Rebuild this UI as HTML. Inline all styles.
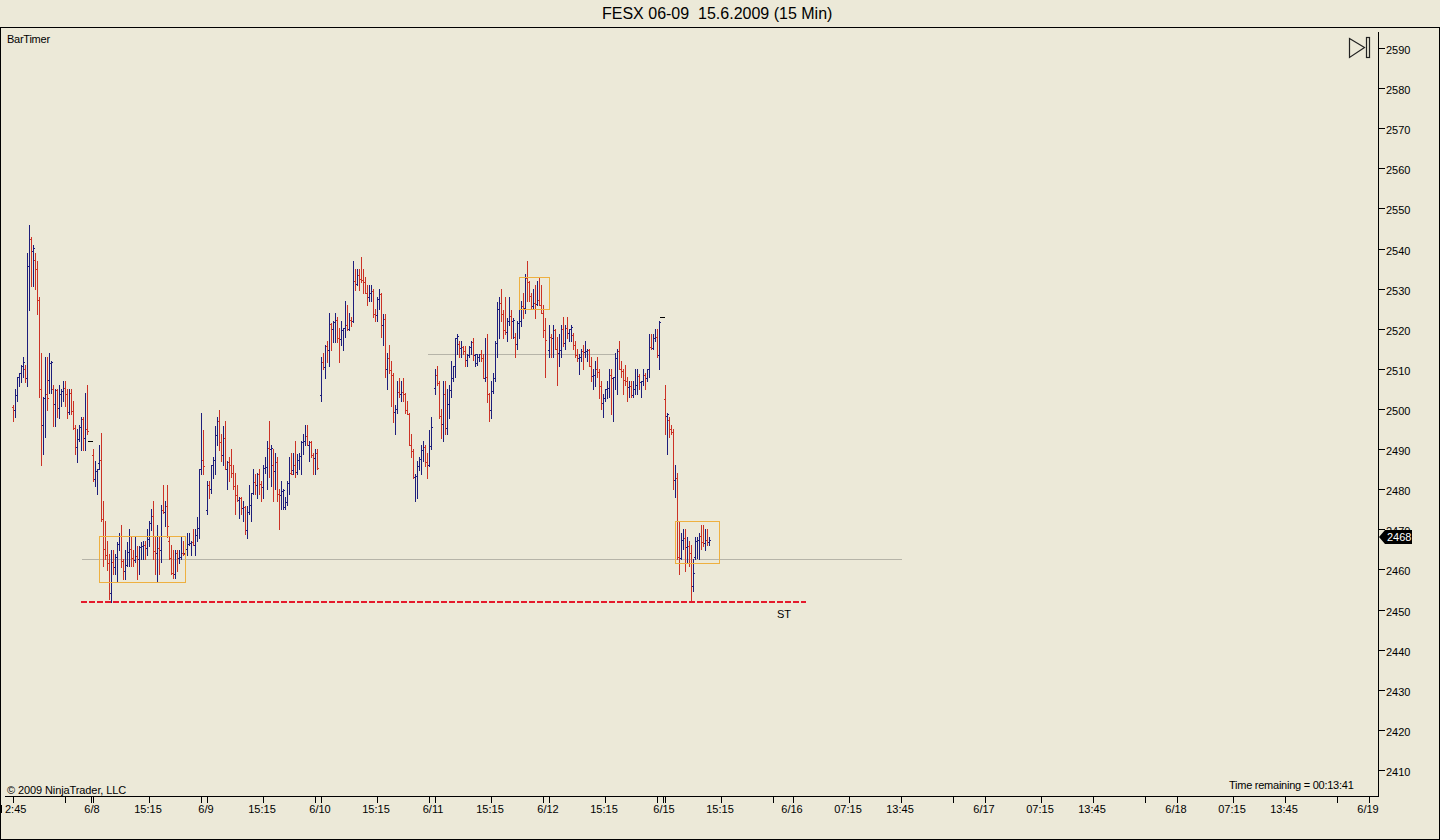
<!DOCTYPE html>
<html><head><meta charset="utf-8"><style>
html,body{margin:0;padding:0;}
body{width:1440px;height:840px;overflow:hidden;background:#ece9d8;position:relative;font-family:"Liberation Sans",sans-serif;color:#000;}
.t{position:absolute;font-size:11px;line-height:11px;white-space:pre;}
.c{transform:translateX(-50%);}
svg{position:absolute;left:0;top:0;}
</style></head><body>
<div class="t" style="left:602px;top:6px;font-size:16px;line-height:16px;">FESX 06-09  15.6.2009 (15 Min)</div>
<svg width="1440" height="840" viewBox="0 0 1440 840" shape-rendering="crispEdges">
<rect x="0" y="27" width="1440" height="1" fill="#000"/>
<rect x="0" y="27" width="1" height="813" fill="#000"/>
<rect x="1439" y="27" width="1" height="813" fill="#000"/>
<rect x="0" y="839" width="1440" height="1" fill="#000"/>
<rect x="1378" y="32" width="1" height="765" fill="#000"/>
<rect x="5" y="796" width="1374" height="1" fill="#000"/>
<rect x="0" y="805" width="2" height="8" fill="#000"/>
<rect x="428" y="354" width="187" height="1" fill="#b6b4a8"/>
<rect x="82" y="559" width="820" height="1" fill="#b6b4a8"/>

<rect x="13" y="405" width="1" height="17" fill="#cc3226"/>
<rect x="12" y="407" width="1" height="1" fill="#cc3226"/>
<rect x="14" y="410" width="1" height="1" fill="#cc3226"/>
<rect x="15" y="389" width="1" height="29" fill="#1e1e7c"/>
<rect x="14" y="410" width="1" height="1" fill="#1e1e7c"/>
<rect x="16" y="395" width="1" height="1" fill="#1e1e7c"/>
<rect x="17" y="377" width="1" height="25" fill="#1e1e7c"/>
<rect x="16" y="395" width="1" height="1" fill="#1e1e7c"/>
<rect x="18" y="377" width="1" height="1" fill="#1e1e7c"/>
<rect x="19" y="373" width="1" height="14" fill="#1e1e7c"/>
<rect x="18" y="377" width="1" height="1" fill="#1e1e7c"/>
<rect x="20" y="373" width="1" height="1" fill="#1e1e7c"/>
<rect x="21" y="365" width="1" height="18" fill="#1e1e7c"/>
<rect x="20" y="373" width="1" height="1" fill="#1e1e7c"/>
<rect x="22" y="366" width="1" height="1" fill="#1e1e7c"/>
<rect x="23" y="357" width="1" height="21" fill="#1e1e7c"/>
<rect x="22" y="366" width="1" height="1" fill="#1e1e7c"/>
<rect x="24" y="362" width="1" height="1" fill="#1e1e7c"/>
<rect x="25" y="365" width="1" height="18" fill="#cc3226"/>
<rect x="24" y="369" width="1" height="1" fill="#cc3226"/>
<rect x="26" y="378" width="1" height="1" fill="#cc3226"/>
<rect x="27" y="253" width="1" height="134" fill="#1e1e7c"/>
<rect x="26" y="378" width="1" height="1" fill="#1e1e7c"/>
<rect x="28" y="266" width="1" height="1" fill="#1e1e7c"/>
<rect x="29" y="225" width="1" height="86" fill="#1e1e7c"/>
<rect x="28" y="266" width="1" height="1" fill="#1e1e7c"/>
<rect x="30" y="239" width="1" height="1" fill="#1e1e7c"/>
<rect x="31" y="237" width="1" height="50" fill="#cc3226"/>
<rect x="30" y="239" width="1" height="1" fill="#cc3226"/>
<rect x="32" y="251" width="1" height="1" fill="#cc3226"/>
<rect x="33" y="245" width="1" height="42" fill="#1e1e7c"/>
<rect x="32" y="251" width="1" height="1" fill="#1e1e7c"/>
<rect x="34" y="248" width="1" height="1" fill="#1e1e7c"/>
<rect x="35" y="253" width="1" height="37" fill="#cc3226"/>
<rect x="34" y="260" width="1" height="1" fill="#cc3226"/>
<rect x="36" y="269" width="1" height="1" fill="#cc3226"/>
<rect x="37" y="261" width="1" height="54" fill="#cc3226"/>
<rect x="36" y="269" width="1" height="1" fill="#cc3226"/>
<rect x="38" y="300" width="1" height="1" fill="#cc3226"/>
<rect x="39" y="297" width="1" height="101" fill="#cc3226"/>
<rect x="38" y="300" width="1" height="1" fill="#cc3226"/>
<rect x="40" y="389" width="1" height="1" fill="#cc3226"/>
<rect x="41" y="353" width="1" height="113" fill="#cc3226"/>
<rect x="40" y="389" width="1" height="1" fill="#cc3226"/>
<rect x="42" y="425" width="1" height="1" fill="#cc3226"/>
<rect x="43" y="397" width="1" height="58" fill="#1e1e7c"/>
<rect x="42" y="425" width="1" height="1" fill="#1e1e7c"/>
<rect x="44" y="398" width="1" height="1" fill="#1e1e7c"/>
<rect x="45" y="357" width="1" height="81" fill="#1e1e7c"/>
<rect x="44" y="398" width="1" height="1" fill="#1e1e7c"/>
<rect x="46" y="394" width="1" height="1" fill="#1e1e7c"/>
<rect x="47" y="357" width="1" height="54" fill="#cc3226"/>
<rect x="46" y="394" width="1" height="1" fill="#cc3226"/>
<rect x="48" y="398" width="1" height="1" fill="#cc3226"/>
<rect x="49" y="353" width="1" height="41" fill="#1e1e7c"/>
<rect x="48" y="380" width="1" height="1" fill="#1e1e7c"/>
<rect x="50" y="363" width="1" height="1" fill="#1e1e7c"/>
<rect x="51" y="361" width="1" height="33" fill="#1e1e7c"/>
<rect x="50" y="363" width="1" height="1" fill="#1e1e7c"/>
<rect x="52" y="362" width="1" height="1" fill="#1e1e7c"/>
<rect x="53" y="385" width="1" height="42" fill="#cc3226"/>
<rect x="52" y="389" width="1" height="1" fill="#cc3226"/>
<rect x="54" y="404" width="1" height="1" fill="#cc3226"/>
<rect x="55" y="389" width="1" height="38" fill="#1e1e7c"/>
<rect x="54" y="404" width="1" height="1" fill="#1e1e7c"/>
<rect x="56" y="390" width="1" height="1" fill="#1e1e7c"/>
<rect x="57" y="389" width="1" height="29" fill="#cc3226"/>
<rect x="56" y="390" width="1" height="1" fill="#cc3226"/>
<rect x="58" y="408" width="1" height="1" fill="#cc3226"/>
<rect x="59" y="385" width="1" height="34" fill="#1e1e7c"/>
<rect x="58" y="408" width="1" height="1" fill="#1e1e7c"/>
<rect x="60" y="394" width="1" height="1" fill="#1e1e7c"/>
<rect x="61" y="389" width="1" height="18" fill="#1e1e7c"/>
<rect x="60" y="394" width="1" height="1" fill="#1e1e7c"/>
<rect x="62" y="391" width="1" height="1" fill="#1e1e7c"/>
<rect x="63" y="381" width="1" height="21" fill="#1e1e7c"/>
<rect x="62" y="391" width="1" height="1" fill="#1e1e7c"/>
<rect x="64" y="388" width="1" height="1" fill="#1e1e7c"/>
<rect x="65" y="381" width="1" height="26" fill="#cc3226"/>
<rect x="64" y="388" width="1" height="1" fill="#cc3226"/>
<rect x="66" y="394" width="1" height="1" fill="#cc3226"/>
<rect x="67" y="389" width="1" height="30" fill="#cc3226"/>
<rect x="66" y="394" width="1" height="1" fill="#cc3226"/>
<rect x="68" y="412" width="1" height="1" fill="#cc3226"/>
<rect x="69" y="389" width="1" height="26" fill="#1e1e7c"/>
<rect x="68" y="412" width="1" height="1" fill="#1e1e7c"/>
<rect x="70" y="393" width="1" height="1" fill="#1e1e7c"/>
<rect x="71" y="389" width="1" height="26" fill="#cc3226"/>
<rect x="70" y="393" width="1" height="1" fill="#cc3226"/>
<rect x="72" y="411" width="1" height="1" fill="#cc3226"/>
<rect x="73" y="401" width="1" height="29" fill="#cc3226"/>
<rect x="72" y="411" width="1" height="1" fill="#cc3226"/>
<rect x="74" y="428" width="1" height="1" fill="#cc3226"/>
<rect x="75" y="425" width="1" height="30" fill="#cc3226"/>
<rect x="74" y="428" width="1" height="1" fill="#cc3226"/>
<rect x="76" y="447" width="1" height="1" fill="#cc3226"/>
<rect x="77" y="429" width="1" height="34" fill="#1e1e7c"/>
<rect x="76" y="447" width="1" height="1" fill="#1e1e7c"/>
<rect x="78" y="439" width="1" height="1" fill="#1e1e7c"/>
<rect x="79" y="425" width="1" height="17" fill="#1e1e7c"/>
<rect x="78" y="439" width="1" height="1" fill="#1e1e7c"/>
<rect x="80" y="427" width="1" height="1" fill="#1e1e7c"/>
<rect x="81" y="417" width="1" height="34" fill="#1e1e7c"/>
<rect x="80" y="427" width="1" height="1" fill="#1e1e7c"/>
<rect x="82" y="419" width="1" height="1" fill="#1e1e7c"/>
<rect x="83" y="417" width="1" height="34" fill="#cc3226"/>
<rect x="82" y="419" width="1" height="1" fill="#cc3226"/>
<rect x="84" y="438" width="1" height="1" fill="#cc3226"/>
<rect x="85" y="393" width="1" height="58" fill="#1e1e7c"/>
<rect x="84" y="438" width="1" height="1" fill="#1e1e7c"/>
<rect x="86" y="429" width="1" height="1" fill="#1e1e7c"/>
<rect x="87" y="385" width="1" height="50" fill="#cc3226"/>
<rect x="86" y="429" width="1" height="1" fill="#cc3226"/>
<rect x="88" y="431" width="1" height="1" fill="#cc3226"/>
<rect x="88" y="441" width="5" height="1" fill="#000"/>
<rect x="93" y="449" width="1" height="33" fill="#cc3226"/>
<rect x="92" y="455" width="1" height="1" fill="#cc3226"/>
<rect x="94" y="479" width="1" height="1" fill="#cc3226"/>
<rect x="95" y="461" width="1" height="26" fill="#1e1e7c"/>
<rect x="94" y="479" width="1" height="1" fill="#1e1e7c"/>
<rect x="96" y="471" width="1" height="1" fill="#1e1e7c"/>
<rect x="97" y="469" width="1" height="26" fill="#1e1e7c"/>
<rect x="96" y="471" width="1" height="1" fill="#1e1e7c"/>
<rect x="98" y="469" width="1" height="1" fill="#1e1e7c"/>
<rect x="99" y="445" width="1" height="25" fill="#1e1e7c"/>
<rect x="98" y="463" width="1" height="1" fill="#1e1e7c"/>
<rect x="100" y="460" width="1" height="1" fill="#1e1e7c"/>
<rect x="101" y="433" width="1" height="89" fill="#cc3226"/>
<rect x="100" y="460" width="1" height="1" fill="#cc3226"/>
<rect x="102" y="519" width="1" height="1" fill="#cc3226"/>
<rect x="103" y="501" width="1" height="66" fill="#cc3226"/>
<rect x="102" y="519" width="1" height="1" fill="#cc3226"/>
<rect x="104" y="549" width="1" height="1" fill="#cc3226"/>
<rect x="105" y="521" width="1" height="39" fill="#cc3226"/>
<rect x="104" y="549" width="1" height="1" fill="#cc3226"/>
<rect x="106" y="555" width="1" height="1" fill="#cc3226"/>
<rect x="107" y="541" width="1" height="30" fill="#cc3226"/>
<rect x="106" y="555" width="1" height="1" fill="#cc3226"/>
<rect x="108" y="563" width="1" height="1" fill="#cc3226"/>
<rect x="109" y="554" width="1" height="46" fill="#cc3226"/>
<rect x="108" y="563" width="1" height="1" fill="#cc3226"/>
<rect x="110" y="593" width="1" height="1" fill="#cc3226"/>
<rect x="111" y="550" width="1" height="53" fill="#1e1e7c"/>
<rect x="110" y="593" width="1" height="1" fill="#1e1e7c"/>
<rect x="112" y="562" width="1" height="1" fill="#1e1e7c"/>
<rect x="113" y="550" width="1" height="25" fill="#cc3226"/>
<rect x="112" y="562" width="1" height="1" fill="#cc3226"/>
<rect x="114" y="567" width="1" height="1" fill="#cc3226"/>
<rect x="115" y="554" width="1" height="21" fill="#1e1e7c"/>
<rect x="114" y="567" width="1" height="1" fill="#1e1e7c"/>
<rect x="116" y="557" width="1" height="1" fill="#1e1e7c"/>
<rect x="117" y="542" width="1" height="41" fill="#1e1e7c"/>
<rect x="116" y="557" width="1" height="1" fill="#1e1e7c"/>
<rect x="118" y="544" width="1" height="1" fill="#1e1e7c"/>
<rect x="119" y="533" width="1" height="18" fill="#1e1e7c"/>
<rect x="118" y="544" width="1" height="1" fill="#1e1e7c"/>
<rect x="120" y="536" width="1" height="1" fill="#1e1e7c"/>
<rect x="121" y="525" width="1" height="43" fill="#cc3226"/>
<rect x="120" y="536" width="1" height="1" fill="#cc3226"/>
<rect x="122" y="561" width="1" height="1" fill="#cc3226"/>
<rect x="123" y="559" width="1" height="21" fill="#cc3226"/>
<rect x="122" y="561" width="1" height="1" fill="#cc3226"/>
<rect x="124" y="571" width="1" height="1" fill="#cc3226"/>
<rect x="125" y="550" width="1" height="30" fill="#1e1e7c"/>
<rect x="124" y="571" width="1" height="1" fill="#1e1e7c"/>
<rect x="126" y="565" width="1" height="1" fill="#1e1e7c"/>
<rect x="127" y="542" width="1" height="25" fill="#1e1e7c"/>
<rect x="126" y="565" width="1" height="1" fill="#1e1e7c"/>
<rect x="128" y="552" width="1" height="1" fill="#1e1e7c"/>
<rect x="129" y="529" width="1" height="38" fill="#1e1e7c"/>
<rect x="128" y="552" width="1" height="1" fill="#1e1e7c"/>
<rect x="130" y="549" width="1" height="1" fill="#1e1e7c"/>
<rect x="131" y="537" width="1" height="30" fill="#cc3226"/>
<rect x="130" y="549" width="1" height="1" fill="#cc3226"/>
<rect x="132" y="558" width="1" height="1" fill="#cc3226"/>
<rect x="133" y="550" width="1" height="17" fill="#cc3226"/>
<rect x="132" y="558" width="1" height="1" fill="#cc3226"/>
<rect x="134" y="560" width="1" height="1" fill="#cc3226"/>
<rect x="135" y="537" width="1" height="26" fill="#1e1e7c"/>
<rect x="134" y="560" width="1" height="1" fill="#1e1e7c"/>
<rect x="136" y="556" width="1" height="1" fill="#1e1e7c"/>
<rect x="137" y="546" width="1" height="34" fill="#cc3226"/>
<rect x="136" y="556" width="1" height="1" fill="#cc3226"/>
<rect x="138" y="559" width="1" height="1" fill="#cc3226"/>
<rect x="139" y="546" width="1" height="29" fill="#1e1e7c"/>
<rect x="138" y="559" width="1" height="1" fill="#1e1e7c"/>
<rect x="140" y="547" width="1" height="1" fill="#1e1e7c"/>
<rect x="141" y="542" width="1" height="18" fill="#1e1e7c"/>
<rect x="140" y="547" width="1" height="1" fill="#1e1e7c"/>
<rect x="142" y="546" width="1" height="1" fill="#1e1e7c"/>
<rect x="143" y="541" width="1" height="19" fill="#1e1e7c"/>
<rect x="142" y="546" width="1" height="1" fill="#1e1e7c"/>
<rect x="144" y="545" width="1" height="1" fill="#1e1e7c"/>
<rect x="145" y="541" width="1" height="19" fill="#cc3226"/>
<rect x="144" y="545" width="1" height="1" fill="#cc3226"/>
<rect x="146" y="548" width="1" height="1" fill="#cc3226"/>
<rect x="147" y="529" width="1" height="27" fill="#1e1e7c"/>
<rect x="146" y="548" width="1" height="1" fill="#1e1e7c"/>
<rect x="148" y="539" width="1" height="1" fill="#1e1e7c"/>
<rect x="149" y="521" width="1" height="26" fill="#1e1e7c"/>
<rect x="148" y="539" width="1" height="1" fill="#1e1e7c"/>
<rect x="150" y="523" width="1" height="1" fill="#1e1e7c"/>
<rect x="151" y="509" width="1" height="22" fill="#1e1e7c"/>
<rect x="150" y="523" width="1" height="1" fill="#1e1e7c"/>
<rect x="152" y="516" width="1" height="1" fill="#1e1e7c"/>
<rect x="153" y="501" width="1" height="59" fill="#cc3226"/>
<rect x="152" y="516" width="1" height="1" fill="#cc3226"/>
<rect x="154" y="551" width="1" height="1" fill="#cc3226"/>
<rect x="155" y="537" width="1" height="38" fill="#cc3226"/>
<rect x="154" y="551" width="1" height="1" fill="#cc3226"/>
<rect x="156" y="553" width="1" height="1" fill="#cc3226"/>
<rect x="157" y="525" width="1" height="58" fill="#1e1e7c"/>
<rect x="156" y="553" width="1" height="1" fill="#1e1e7c"/>
<rect x="158" y="548" width="1" height="1" fill="#1e1e7c"/>
<rect x="159" y="537" width="1" height="38" fill="#cc3226"/>
<rect x="158" y="548" width="1" height="1" fill="#cc3226"/>
<rect x="160" y="550" width="1" height="1" fill="#cc3226"/>
<rect x="161" y="505" width="1" height="58" fill="#1e1e7c"/>
<rect x="160" y="550" width="1" height="1" fill="#1e1e7c"/>
<rect x="162" y="510" width="1" height="1" fill="#1e1e7c"/>
<rect x="163" y="485" width="1" height="29" fill="#cc3226"/>
<rect x="162" y="510" width="1" height="1" fill="#cc3226"/>
<rect x="164" y="512" width="1" height="1" fill="#cc3226"/>
<rect x="165" y="501" width="1" height="26" fill="#1e1e7c"/>
<rect x="164" y="512" width="1" height="1" fill="#1e1e7c"/>
<rect x="166" y="506" width="1" height="1" fill="#1e1e7c"/>
<rect x="167" y="485" width="1" height="53" fill="#cc3226"/>
<rect x="166" y="506" width="1" height="1" fill="#cc3226"/>
<rect x="168" y="526" width="1" height="1" fill="#cc3226"/>
<rect x="169" y="537" width="1" height="23" fill="#cc3226"/>
<rect x="168" y="541" width="1" height="1" fill="#cc3226"/>
<rect x="170" y="558" width="1" height="1" fill="#cc3226"/>
<rect x="171" y="545" width="1" height="30" fill="#cc3226"/>
<rect x="170" y="558" width="1" height="1" fill="#cc3226"/>
<rect x="172" y="573" width="1" height="1" fill="#cc3226"/>
<rect x="173" y="550" width="1" height="29" fill="#cc3226"/>
<rect x="172" y="573" width="1" height="1" fill="#cc3226"/>
<rect x="174" y="574" width="1" height="1" fill="#cc3226"/>
<rect x="175" y="550" width="1" height="29" fill="#1e1e7c"/>
<rect x="174" y="574" width="1" height="1" fill="#1e1e7c"/>
<rect x="176" y="553" width="1" height="1" fill="#1e1e7c"/>
<rect x="177" y="550" width="1" height="22" fill="#cc3226"/>
<rect x="176" y="553" width="1" height="1" fill="#cc3226"/>
<rect x="178" y="558" width="1" height="1" fill="#cc3226"/>
<rect x="179" y="550" width="1" height="14" fill="#1e1e7c"/>
<rect x="178" y="558" width="1" height="1" fill="#1e1e7c"/>
<rect x="180" y="557" width="1" height="1" fill="#1e1e7c"/>
<rect x="181" y="537" width="1" height="23" fill="#1e1e7c"/>
<rect x="180" y="557" width="1" height="1" fill="#1e1e7c"/>
<rect x="182" y="553" width="1" height="1" fill="#1e1e7c"/>
<rect x="183" y="541" width="1" height="15" fill="#cc3226"/>
<rect x="182" y="553" width="1" height="1" fill="#cc3226"/>
<rect x="184" y="554" width="1" height="1" fill="#cc3226"/>
<rect x="185" y="545" width="1" height="10" fill="#1e1e7c"/>
<rect x="184" y="553" width="1" height="1" fill="#1e1e7c"/>
<rect x="186" y="549" width="1" height="1" fill="#1e1e7c"/>
<rect x="187" y="533" width="1" height="23" fill="#1e1e7c"/>
<rect x="186" y="549" width="1" height="1" fill="#1e1e7c"/>
<rect x="188" y="544" width="1" height="1" fill="#1e1e7c"/>
<rect x="189" y="533" width="1" height="13" fill="#1e1e7c"/>
<rect x="188" y="544" width="1" height="1" fill="#1e1e7c"/>
<rect x="190" y="543" width="1" height="1" fill="#1e1e7c"/>
<rect x="191" y="541" width="1" height="15" fill="#1e1e7c"/>
<rect x="190" y="543" width="1" height="1" fill="#1e1e7c"/>
<rect x="192" y="542" width="1" height="1" fill="#1e1e7c"/>
<rect x="193" y="529" width="1" height="17" fill="#cc3226"/>
<rect x="192" y="542" width="1" height="1" fill="#cc3226"/>
<rect x="194" y="545" width="1" height="1" fill="#cc3226"/>
<rect x="195" y="529" width="1" height="27" fill="#1e1e7c"/>
<rect x="194" y="545" width="1" height="1" fill="#1e1e7c"/>
<rect x="196" y="535" width="1" height="1" fill="#1e1e7c"/>
<rect x="197" y="517" width="1" height="25" fill="#1e1e7c"/>
<rect x="196" y="535" width="1" height="1" fill="#1e1e7c"/>
<rect x="198" y="528" width="1" height="1" fill="#1e1e7c"/>
<rect x="199" y="469" width="1" height="70" fill="#1e1e7c"/>
<rect x="198" y="528" width="1" height="1" fill="#1e1e7c"/>
<rect x="200" y="469" width="1" height="1" fill="#1e1e7c"/>
<rect x="201" y="413" width="1" height="62" fill="#1e1e7c"/>
<rect x="200" y="469" width="1" height="1" fill="#1e1e7c"/>
<rect x="202" y="460" width="1" height="1" fill="#1e1e7c"/>
<rect x="203" y="430" width="1" height="45" fill="#cc3226"/>
<rect x="202" y="460" width="1" height="1" fill="#cc3226"/>
<rect x="204" y="466" width="1" height="1" fill="#cc3226"/>
<rect x="207" y="481" width="1" height="34" fill="#1e1e7c"/>
<rect x="206" y="510" width="1" height="1" fill="#1e1e7c"/>
<rect x="208" y="485" width="1" height="1" fill="#1e1e7c"/>
<rect x="209" y="481" width="1" height="18" fill="#cc3226"/>
<rect x="208" y="485" width="1" height="1" fill="#cc3226"/>
<rect x="210" y="489" width="1" height="1" fill="#cc3226"/>
<rect x="211" y="465" width="1" height="29" fill="#1e1e7c"/>
<rect x="210" y="489" width="1" height="1" fill="#1e1e7c"/>
<rect x="212" y="465" width="1" height="1" fill="#1e1e7c"/>
<rect x="213" y="457" width="1" height="22" fill="#1e1e7c"/>
<rect x="212" y="465" width="1" height="1" fill="#1e1e7c"/>
<rect x="214" y="460" width="1" height="1" fill="#1e1e7c"/>
<rect x="215" y="426" width="1" height="49" fill="#1e1e7c"/>
<rect x="214" y="460" width="1" height="1" fill="#1e1e7c"/>
<rect x="216" y="435" width="1" height="1" fill="#1e1e7c"/>
<rect x="217" y="417" width="1" height="29" fill="#1e1e7c"/>
<rect x="216" y="435" width="1" height="1" fill="#1e1e7c"/>
<rect x="218" y="421" width="1" height="1" fill="#1e1e7c"/>
<rect x="219" y="410" width="1" height="41" fill="#cc3226"/>
<rect x="218" y="421" width="1" height="1" fill="#cc3226"/>
<rect x="220" y="442" width="1" height="1" fill="#cc3226"/>
<rect x="221" y="434" width="1" height="28" fill="#cc3226"/>
<rect x="220" y="442" width="1" height="1" fill="#cc3226"/>
<rect x="222" y="455" width="1" height="1" fill="#cc3226"/>
<rect x="223" y="426" width="1" height="40" fill="#1e1e7c"/>
<rect x="222" y="455" width="1" height="1" fill="#1e1e7c"/>
<rect x="224" y="438" width="1" height="1" fill="#1e1e7c"/>
<rect x="225" y="421" width="1" height="49" fill="#cc3226"/>
<rect x="224" y="438" width="1" height="1" fill="#cc3226"/>
<rect x="226" y="469" width="1" height="1" fill="#cc3226"/>
<rect x="227" y="461" width="1" height="29" fill="#1e1e7c"/>
<rect x="226" y="469" width="1" height="1" fill="#1e1e7c"/>
<rect x="228" y="462" width="1" height="1" fill="#1e1e7c"/>
<rect x="229" y="457" width="1" height="25" fill="#cc3226"/>
<rect x="228" y="462" width="1" height="1" fill="#cc3226"/>
<rect x="230" y="465" width="1" height="1" fill="#cc3226"/>
<rect x="231" y="449" width="1" height="29" fill="#cc3226"/>
<rect x="230" y="465" width="1" height="1" fill="#cc3226"/>
<rect x="232" y="473" width="1" height="1" fill="#cc3226"/>
<rect x="233" y="465" width="1" height="25" fill="#cc3226"/>
<rect x="232" y="473" width="1" height="1" fill="#cc3226"/>
<rect x="234" y="486" width="1" height="1" fill="#cc3226"/>
<rect x="235" y="473" width="1" height="42" fill="#cc3226"/>
<rect x="234" y="486" width="1" height="1" fill="#cc3226"/>
<rect x="236" y="495" width="1" height="1" fill="#cc3226"/>
<rect x="237" y="485" width="1" height="17" fill="#cc3226"/>
<rect x="236" y="495" width="1" height="1" fill="#cc3226"/>
<rect x="238" y="500" width="1" height="1" fill="#cc3226"/>
<rect x="239" y="497" width="1" height="22" fill="#1e1e7c"/>
<rect x="238" y="500" width="1" height="1" fill="#1e1e7c"/>
<rect x="240" y="498" width="1" height="1" fill="#1e1e7c"/>
<rect x="241" y="497" width="1" height="18" fill="#cc3226"/>
<rect x="240" y="498" width="1" height="1" fill="#cc3226"/>
<rect x="242" y="508" width="1" height="1" fill="#cc3226"/>
<rect x="243" y="501" width="1" height="21" fill="#1e1e7c"/>
<rect x="242" y="508" width="1" height="1" fill="#1e1e7c"/>
<rect x="244" y="507" width="1" height="1" fill="#1e1e7c"/>
<rect x="245" y="506" width="1" height="29" fill="#cc3226"/>
<rect x="244" y="507" width="1" height="1" fill="#cc3226"/>
<rect x="246" y="530" width="1" height="1" fill="#cc3226"/>
<rect x="247" y="506" width="1" height="33" fill="#1e1e7c"/>
<rect x="246" y="530" width="1" height="1" fill="#1e1e7c"/>
<rect x="248" y="512" width="1" height="1" fill="#1e1e7c"/>
<rect x="249" y="485" width="1" height="30" fill="#1e1e7c"/>
<rect x="248" y="512" width="1" height="1" fill="#1e1e7c"/>
<rect x="250" y="505" width="1" height="1" fill="#1e1e7c"/>
<rect x="251" y="493" width="1" height="29" fill="#1e1e7c"/>
<rect x="250" y="505" width="1" height="1" fill="#1e1e7c"/>
<rect x="252" y="493" width="1" height="1" fill="#1e1e7c"/>
<rect x="253" y="469" width="1" height="26" fill="#1e1e7c"/>
<rect x="252" y="493" width="1" height="1" fill="#1e1e7c"/>
<rect x="254" y="482" width="1" height="1" fill="#1e1e7c"/>
<rect x="255" y="474" width="1" height="21" fill="#cc3226"/>
<rect x="254" y="482" width="1" height="1" fill="#cc3226"/>
<rect x="256" y="485" width="1" height="1" fill="#cc3226"/>
<rect x="257" y="473" width="1" height="26" fill="#1e1e7c"/>
<rect x="256" y="485" width="1" height="1" fill="#1e1e7c"/>
<rect x="258" y="474" width="1" height="1" fill="#1e1e7c"/>
<rect x="259" y="469" width="1" height="26" fill="#cc3226"/>
<rect x="258" y="474" width="1" height="1" fill="#cc3226"/>
<rect x="260" y="484" width="1" height="1" fill="#cc3226"/>
<rect x="261" y="481" width="1" height="21" fill="#cc3226"/>
<rect x="260" y="484" width="1" height="1" fill="#cc3226"/>
<rect x="262" y="487" width="1" height="1" fill="#cc3226"/>
<rect x="263" y="465" width="1" height="34" fill="#1e1e7c"/>
<rect x="262" y="487" width="1" height="1" fill="#1e1e7c"/>
<rect x="264" y="468" width="1" height="1" fill="#1e1e7c"/>
<rect x="265" y="457" width="1" height="17" fill="#1e1e7c"/>
<rect x="264" y="468" width="1" height="1" fill="#1e1e7c"/>
<rect x="266" y="467" width="1" height="1" fill="#1e1e7c"/>
<rect x="267" y="441" width="1" height="49" fill="#1e1e7c"/>
<rect x="266" y="467" width="1" height="1" fill="#1e1e7c"/>
<rect x="268" y="448" width="1" height="1" fill="#1e1e7c"/>
<rect x="269" y="421" width="1" height="57" fill="#cc3226"/>
<rect x="268" y="448" width="1" height="1" fill="#cc3226"/>
<rect x="270" y="449" width="1" height="1" fill="#cc3226"/>
<rect x="271" y="445" width="1" height="42" fill="#1e1e7c"/>
<rect x="270" y="449" width="1" height="1" fill="#1e1e7c"/>
<rect x="272" y="448" width="1" height="1" fill="#1e1e7c"/>
<rect x="273" y="449" width="1" height="53" fill="#cc3226"/>
<rect x="272" y="465" width="1" height="1" fill="#cc3226"/>
<rect x="274" y="471" width="1" height="1" fill="#cc3226"/>
<rect x="275" y="453" width="1" height="37" fill="#1e1e7c"/>
<rect x="274" y="471" width="1" height="1" fill="#1e1e7c"/>
<rect x="276" y="462" width="1" height="1" fill="#1e1e7c"/>
<rect x="277" y="457" width="1" height="45" fill="#cc3226"/>
<rect x="276" y="462" width="1" height="1" fill="#cc3226"/>
<rect x="278" y="494" width="1" height="1" fill="#cc3226"/>
<rect x="279" y="489" width="1" height="41" fill="#cc3226"/>
<rect x="278" y="494" width="1" height="1" fill="#cc3226"/>
<rect x="280" y="495" width="1" height="1" fill="#cc3226"/>
<rect x="281" y="481" width="1" height="29" fill="#1e1e7c"/>
<rect x="280" y="495" width="1" height="1" fill="#1e1e7c"/>
<rect x="282" y="491" width="1" height="1" fill="#1e1e7c"/>
<rect x="283" y="489" width="1" height="21" fill="#1e1e7c"/>
<rect x="282" y="491" width="1" height="1" fill="#1e1e7c"/>
<rect x="284" y="490" width="1" height="1" fill="#1e1e7c"/>
<rect x="285" y="497" width="1" height="13" fill="#1e1e7c"/>
<rect x="284" y="507" width="1" height="1" fill="#1e1e7c"/>
<rect x="286" y="502" width="1" height="1" fill="#1e1e7c"/>
<rect x="287" y="481" width="1" height="25" fill="#1e1e7c"/>
<rect x="286" y="502" width="1" height="1" fill="#1e1e7c"/>
<rect x="288" y="483" width="1" height="1" fill="#1e1e7c"/>
<rect x="289" y="457" width="1" height="38" fill="#1e1e7c"/>
<rect x="288" y="483" width="1" height="1" fill="#1e1e7c"/>
<rect x="290" y="473" width="1" height="1" fill="#1e1e7c"/>
<rect x="291" y="453" width="1" height="22" fill="#cc3226"/>
<rect x="290" y="473" width="1" height="1" fill="#cc3226"/>
<rect x="292" y="474" width="1" height="1" fill="#cc3226"/>
<rect x="293" y="453" width="1" height="22" fill="#1e1e7c"/>
<rect x="292" y="470" width="1" height="1" fill="#1e1e7c"/>
<rect x="294" y="465" width="1" height="1" fill="#1e1e7c"/>
<rect x="295" y="441" width="1" height="37" fill="#cc3226"/>
<rect x="294" y="465" width="1" height="1" fill="#cc3226"/>
<rect x="296" y="472" width="1" height="1" fill="#cc3226"/>
<rect x="297" y="454" width="1" height="21" fill="#1e1e7c"/>
<rect x="296" y="472" width="1" height="1" fill="#1e1e7c"/>
<rect x="298" y="460" width="1" height="1" fill="#1e1e7c"/>
<rect x="299" y="453" width="1" height="17" fill="#1e1e7c"/>
<rect x="298" y="460" width="1" height="1" fill="#1e1e7c"/>
<rect x="300" y="456" width="1" height="1" fill="#1e1e7c"/>
<rect x="301" y="441" width="1" height="34" fill="#1e1e7c"/>
<rect x="300" y="456" width="1" height="1" fill="#1e1e7c"/>
<rect x="302" y="442" width="1" height="1" fill="#1e1e7c"/>
<rect x="303" y="434" width="1" height="21" fill="#1e1e7c"/>
<rect x="302" y="442" width="1" height="1" fill="#1e1e7c"/>
<rect x="304" y="441" width="1" height="1" fill="#1e1e7c"/>
<rect x="305" y="425" width="1" height="21" fill="#1e1e7c"/>
<rect x="304" y="441" width="1" height="1" fill="#1e1e7c"/>
<rect x="306" y="436" width="1" height="1" fill="#1e1e7c"/>
<rect x="307" y="425" width="1" height="21" fill="#cc3226"/>
<rect x="306" y="436" width="1" height="1" fill="#cc3226"/>
<rect x="308" y="445" width="1" height="1" fill="#cc3226"/>
<rect x="309" y="441" width="1" height="21" fill="#1e1e7c"/>
<rect x="308" y="445" width="1" height="1" fill="#1e1e7c"/>
<rect x="310" y="442" width="1" height="1" fill="#1e1e7c"/>
<rect x="311" y="441" width="1" height="17" fill="#cc3226"/>
<rect x="310" y="442" width="1" height="1" fill="#cc3226"/>
<rect x="312" y="455" width="1" height="1" fill="#cc3226"/>
<rect x="313" y="453" width="1" height="22" fill="#cc3226"/>
<rect x="312" y="455" width="1" height="1" fill="#cc3226"/>
<rect x="314" y="458" width="1" height="1" fill="#cc3226"/>
<rect x="315" y="449" width="1" height="26" fill="#1e1e7c"/>
<rect x="314" y="458" width="1" height="1" fill="#1e1e7c"/>
<rect x="316" y="453" width="1" height="1" fill="#1e1e7c"/>
<rect x="317" y="449" width="1" height="21" fill="#cc3226"/>
<rect x="316" y="453" width="1" height="1" fill="#cc3226"/>
<rect x="318" y="468" width="1" height="1" fill="#cc3226"/>
<rect x="321" y="357" width="1" height="45" fill="#1e1e7c"/>
<rect x="320" y="395" width="1" height="1" fill="#1e1e7c"/>
<rect x="322" y="362" width="1" height="1" fill="#1e1e7c"/>
<rect x="323" y="353" width="1" height="17" fill="#cc3226"/>
<rect x="322" y="362" width="1" height="1" fill="#cc3226"/>
<rect x="324" y="367" width="1" height="1" fill="#cc3226"/>
<rect x="325" y="345" width="1" height="34" fill="#1e1e7c"/>
<rect x="324" y="367" width="1" height="1" fill="#1e1e7c"/>
<rect x="326" y="346" width="1" height="1" fill="#1e1e7c"/>
<rect x="327" y="341" width="1" height="22" fill="#cc3226"/>
<rect x="326" y="346" width="1" height="1" fill="#cc3226"/>
<rect x="328" y="350" width="1" height="1" fill="#cc3226"/>
<rect x="329" y="313" width="1" height="54" fill="#1e1e7c"/>
<rect x="328" y="350" width="1" height="1" fill="#1e1e7c"/>
<rect x="330" y="324" width="1" height="1" fill="#1e1e7c"/>
<rect x="331" y="323" width="1" height="28" fill="#cc3226"/>
<rect x="330" y="324" width="1" height="1" fill="#cc3226"/>
<rect x="332" y="329" width="1" height="1" fill="#cc3226"/>
<rect x="333" y="321" width="1" height="22" fill="#1e1e7c"/>
<rect x="332" y="329" width="1" height="1" fill="#1e1e7c"/>
<rect x="334" y="322" width="1" height="1" fill="#1e1e7c"/>
<rect x="335" y="313" width="1" height="30" fill="#1e1e7c"/>
<rect x="334" y="322" width="1" height="1" fill="#1e1e7c"/>
<rect x="336" y="320" width="1" height="1" fill="#1e1e7c"/>
<rect x="337" y="317" width="1" height="26" fill="#cc3226"/>
<rect x="336" y="320" width="1" height="1" fill="#cc3226"/>
<rect x="338" y="338" width="1" height="1" fill="#cc3226"/>
<rect x="339" y="328" width="1" height="35" fill="#cc3226"/>
<rect x="338" y="338" width="1" height="1" fill="#cc3226"/>
<rect x="340" y="339" width="1" height="1" fill="#cc3226"/>
<rect x="341" y="321" width="1" height="25" fill="#1e1e7c"/>
<rect x="340" y="339" width="1" height="1" fill="#1e1e7c"/>
<rect x="342" y="330" width="1" height="1" fill="#1e1e7c"/>
<rect x="343" y="328" width="1" height="23" fill="#1e1e7c"/>
<rect x="342" y="330" width="1" height="1" fill="#1e1e7c"/>
<rect x="344" y="328" width="1" height="1" fill="#1e1e7c"/>
<rect x="345" y="301" width="1" height="37" fill="#1e1e7c"/>
<rect x="344" y="328" width="1" height="1" fill="#1e1e7c"/>
<rect x="346" y="325" width="1" height="1" fill="#1e1e7c"/>
<rect x="347" y="305" width="1" height="26" fill="#cc3226"/>
<rect x="346" y="325" width="1" height="1" fill="#cc3226"/>
<rect x="348" y="329" width="1" height="1" fill="#cc3226"/>
<rect x="349" y="313" width="1" height="18" fill="#1e1e7c"/>
<rect x="348" y="329" width="1" height="1" fill="#1e1e7c"/>
<rect x="350" y="320" width="1" height="1" fill="#1e1e7c"/>
<rect x="351" y="317" width="1" height="10" fill="#cc3226"/>
<rect x="350" y="320" width="1" height="1" fill="#cc3226"/>
<rect x="352" y="321" width="1" height="1" fill="#cc3226"/>
<rect x="353" y="261" width="1" height="62" fill="#1e1e7c"/>
<rect x="352" y="321" width="1" height="1" fill="#1e1e7c"/>
<rect x="354" y="281" width="1" height="1" fill="#1e1e7c"/>
<rect x="355" y="269" width="1" height="22" fill="#cc3226"/>
<rect x="354" y="281" width="1" height="1" fill="#cc3226"/>
<rect x="356" y="284" width="1" height="1" fill="#cc3226"/>
<rect x="357" y="269" width="1" height="17" fill="#1e1e7c"/>
<rect x="356" y="284" width="1" height="1" fill="#1e1e7c"/>
<rect x="358" y="275" width="1" height="1" fill="#1e1e7c"/>
<rect x="359" y="269" width="1" height="22" fill="#cc3226"/>
<rect x="358" y="275" width="1" height="1" fill="#cc3226"/>
<rect x="360" y="279" width="1" height="1" fill="#cc3226"/>
<rect x="361" y="257" width="1" height="26" fill="#cc3226"/>
<rect x="360" y="279" width="1" height="1" fill="#cc3226"/>
<rect x="362" y="280" width="1" height="1" fill="#cc3226"/>
<rect x="363" y="269" width="1" height="25" fill="#cc3226"/>
<rect x="362" y="280" width="1" height="1" fill="#cc3226"/>
<rect x="364" y="282" width="1" height="1" fill="#cc3226"/>
<rect x="365" y="277" width="1" height="17" fill="#cc3226"/>
<rect x="364" y="282" width="1" height="1" fill="#cc3226"/>
<rect x="366" y="293" width="1" height="1" fill="#cc3226"/>
<rect x="367" y="285" width="1" height="21" fill="#cc3226"/>
<rect x="366" y="293" width="1" height="1" fill="#cc3226"/>
<rect x="368" y="297" width="1" height="1" fill="#cc3226"/>
<rect x="369" y="285" width="1" height="17" fill="#1e1e7c"/>
<rect x="368" y="297" width="1" height="1" fill="#1e1e7c"/>
<rect x="370" y="293" width="1" height="1" fill="#1e1e7c"/>
<rect x="371" y="285" width="1" height="17" fill="#1e1e7c"/>
<rect x="370" y="293" width="1" height="1" fill="#1e1e7c"/>
<rect x="372" y="291" width="1" height="1" fill="#1e1e7c"/>
<rect x="373" y="289" width="1" height="29" fill="#cc3226"/>
<rect x="372" y="291" width="1" height="1" fill="#cc3226"/>
<rect x="374" y="314" width="1" height="1" fill="#cc3226"/>
<rect x="375" y="309" width="1" height="13" fill="#cc3226"/>
<rect x="374" y="314" width="1" height="1" fill="#cc3226"/>
<rect x="376" y="315" width="1" height="1" fill="#cc3226"/>
<rect x="377" y="297" width="1" height="25" fill="#1e1e7c"/>
<rect x="376" y="315" width="1" height="1" fill="#1e1e7c"/>
<rect x="378" y="299" width="1" height="1" fill="#1e1e7c"/>
<rect x="379" y="289" width="1" height="21" fill="#1e1e7c"/>
<rect x="378" y="299" width="1" height="1" fill="#1e1e7c"/>
<rect x="380" y="294" width="1" height="1" fill="#1e1e7c"/>
<rect x="381" y="293" width="1" height="45" fill="#cc3226"/>
<rect x="380" y="294" width="1" height="1" fill="#cc3226"/>
<rect x="382" y="325" width="1" height="1" fill="#cc3226"/>
<rect x="383" y="314" width="1" height="32" fill="#1e1e7c"/>
<rect x="382" y="325" width="1" height="1" fill="#1e1e7c"/>
<rect x="384" y="319" width="1" height="1" fill="#1e1e7c"/>
<rect x="385" y="314" width="1" height="64" fill="#cc3226"/>
<rect x="384" y="319" width="1" height="1" fill="#cc3226"/>
<rect x="386" y="369" width="1" height="1" fill="#cc3226"/>
<rect x="387" y="353" width="1" height="37" fill="#1e1e7c"/>
<rect x="386" y="369" width="1" height="1" fill="#1e1e7c"/>
<rect x="388" y="358" width="1" height="1" fill="#1e1e7c"/>
<rect x="389" y="345" width="1" height="29" fill="#cc3226"/>
<rect x="388" y="358" width="1" height="1" fill="#cc3226"/>
<rect x="390" y="370" width="1" height="1" fill="#cc3226"/>
<rect x="391" y="361" width="1" height="46" fill="#cc3226"/>
<rect x="390" y="370" width="1" height="1" fill="#cc3226"/>
<rect x="392" y="375" width="1" height="1" fill="#cc3226"/>
<rect x="393" y="373" width="1" height="50" fill="#cc3226"/>
<rect x="392" y="375" width="1" height="1" fill="#cc3226"/>
<rect x="394" y="412" width="1" height="1" fill="#cc3226"/>
<rect x="395" y="405" width="1" height="30" fill="#1e1e7c"/>
<rect x="394" y="412" width="1" height="1" fill="#1e1e7c"/>
<rect x="396" y="409" width="1" height="1" fill="#1e1e7c"/>
<rect x="397" y="381" width="1" height="33" fill="#1e1e7c"/>
<rect x="396" y="409" width="1" height="1" fill="#1e1e7c"/>
<rect x="398" y="392" width="1" height="1" fill="#1e1e7c"/>
<rect x="399" y="378" width="1" height="20" fill="#cc3226"/>
<rect x="398" y="392" width="1" height="1" fill="#cc3226"/>
<rect x="400" y="394" width="1" height="1" fill="#cc3226"/>
<rect x="401" y="381" width="1" height="21" fill="#1e1e7c"/>
<rect x="400" y="394" width="1" height="1" fill="#1e1e7c"/>
<rect x="402" y="392" width="1" height="1" fill="#1e1e7c"/>
<rect x="403" y="378" width="1" height="24" fill="#cc3226"/>
<rect x="402" y="392" width="1" height="1" fill="#cc3226"/>
<rect x="404" y="394" width="1" height="1" fill="#cc3226"/>
<rect x="405" y="393" width="1" height="21" fill="#cc3226"/>
<rect x="404" y="394" width="1" height="1" fill="#cc3226"/>
<rect x="406" y="410" width="1" height="1" fill="#cc3226"/>
<rect x="407" y="401" width="1" height="14" fill="#cc3226"/>
<rect x="406" y="410" width="1" height="1" fill="#cc3226"/>
<rect x="408" y="414" width="1" height="1" fill="#cc3226"/>
<rect x="409" y="413" width="1" height="33" fill="#cc3226"/>
<rect x="408" y="414" width="1" height="1" fill="#cc3226"/>
<rect x="410" y="445" width="1" height="1" fill="#cc3226"/>
<rect x="411" y="434" width="1" height="24" fill="#cc3226"/>
<rect x="410" y="445" width="1" height="1" fill="#cc3226"/>
<rect x="412" y="451" width="1" height="1" fill="#cc3226"/>
<rect x="413" y="449" width="1" height="30" fill="#cc3226"/>
<rect x="412" y="451" width="1" height="1" fill="#cc3226"/>
<rect x="414" y="477" width="1" height="1" fill="#cc3226"/>
<rect x="415" y="474" width="1" height="28" fill="#1e1e7c"/>
<rect x="414" y="477" width="1" height="1" fill="#1e1e7c"/>
<rect x="416" y="476" width="1" height="1" fill="#1e1e7c"/>
<rect x="417" y="461" width="1" height="38" fill="#1e1e7c"/>
<rect x="416" y="476" width="1" height="1" fill="#1e1e7c"/>
<rect x="418" y="466" width="1" height="1" fill="#1e1e7c"/>
<rect x="419" y="457" width="1" height="14" fill="#1e1e7c"/>
<rect x="418" y="466" width="1" height="1" fill="#1e1e7c"/>
<rect x="420" y="459" width="1" height="1" fill="#1e1e7c"/>
<rect x="421" y="445" width="1" height="30" fill="#1e1e7c"/>
<rect x="420" y="459" width="1" height="1" fill="#1e1e7c"/>
<rect x="422" y="450" width="1" height="1" fill="#1e1e7c"/>
<rect x="423" y="441" width="1" height="21" fill="#1e1e7c"/>
<rect x="422" y="450" width="1" height="1" fill="#1e1e7c"/>
<rect x="424" y="447" width="1" height="1" fill="#1e1e7c"/>
<rect x="425" y="445" width="1" height="22" fill="#cc3226"/>
<rect x="424" y="447" width="1" height="1" fill="#cc3226"/>
<rect x="426" y="462" width="1" height="1" fill="#cc3226"/>
<rect x="427" y="453" width="1" height="26" fill="#cc3226"/>
<rect x="426" y="462" width="1" height="1" fill="#cc3226"/>
<rect x="428" y="465" width="1" height="1" fill="#cc3226"/>
<rect x="429" y="430" width="1" height="37" fill="#1e1e7c"/>
<rect x="428" y="465" width="1" height="1" fill="#1e1e7c"/>
<rect x="430" y="446" width="1" height="1" fill="#1e1e7c"/>
<rect x="431" y="417" width="1" height="33" fill="#1e1e7c"/>
<rect x="430" y="446" width="1" height="1" fill="#1e1e7c"/>
<rect x="432" y="427" width="1" height="1" fill="#1e1e7c"/>
<rect x="435" y="369" width="1" height="26" fill="#1e1e7c"/>
<rect x="434" y="388" width="1" height="1" fill="#1e1e7c"/>
<rect x="436" y="375" width="1" height="1" fill="#1e1e7c"/>
<rect x="437" y="366" width="1" height="20" fill="#cc3226"/>
<rect x="436" y="375" width="1" height="1" fill="#cc3226"/>
<rect x="438" y="383" width="1" height="1" fill="#cc3226"/>
<rect x="439" y="381" width="1" height="38" fill="#cc3226"/>
<rect x="438" y="383" width="1" height="1" fill="#cc3226"/>
<rect x="440" y="416" width="1" height="1" fill="#cc3226"/>
<rect x="441" y="409" width="1" height="30" fill="#cc3226"/>
<rect x="440" y="416" width="1" height="1" fill="#cc3226"/>
<rect x="442" y="424" width="1" height="1" fill="#cc3226"/>
<rect x="443" y="381" width="1" height="61" fill="#1e1e7c"/>
<rect x="442" y="424" width="1" height="1" fill="#1e1e7c"/>
<rect x="444" y="394" width="1" height="1" fill="#1e1e7c"/>
<rect x="445" y="381" width="1" height="54" fill="#cc3226"/>
<rect x="444" y="394" width="1" height="1" fill="#cc3226"/>
<rect x="446" y="428" width="1" height="1" fill="#cc3226"/>
<rect x="447" y="389" width="1" height="46" fill="#1e1e7c"/>
<rect x="446" y="428" width="1" height="1" fill="#1e1e7c"/>
<rect x="448" y="404" width="1" height="1" fill="#1e1e7c"/>
<rect x="449" y="385" width="1" height="34" fill="#1e1e7c"/>
<rect x="448" y="404" width="1" height="1" fill="#1e1e7c"/>
<rect x="450" y="390" width="1" height="1" fill="#1e1e7c"/>
<rect x="451" y="361" width="1" height="37" fill="#1e1e7c"/>
<rect x="450" y="390" width="1" height="1" fill="#1e1e7c"/>
<rect x="452" y="378" width="1" height="1" fill="#1e1e7c"/>
<rect x="453" y="366" width="1" height="16" fill="#1e1e7c"/>
<rect x="452" y="378" width="1" height="1" fill="#1e1e7c"/>
<rect x="454" y="366" width="1" height="1" fill="#1e1e7c"/>
<rect x="455" y="338" width="1" height="40" fill="#1e1e7c"/>
<rect x="454" y="366" width="1" height="1" fill="#1e1e7c"/>
<rect x="456" y="338" width="1" height="1" fill="#1e1e7c"/>
<rect x="457" y="334" width="1" height="21" fill="#1e1e7c"/>
<rect x="456" y="338" width="1" height="1" fill="#1e1e7c"/>
<rect x="458" y="336" width="1" height="1" fill="#1e1e7c"/>
<rect x="459" y="341" width="1" height="17" fill="#cc3226"/>
<rect x="458" y="344" width="1" height="1" fill="#cc3226"/>
<rect x="460" y="348" width="1" height="1" fill="#cc3226"/>
<rect x="461" y="341" width="1" height="17" fill="#1e1e7c"/>
<rect x="460" y="348" width="1" height="1" fill="#1e1e7c"/>
<rect x="462" y="347" width="1" height="1" fill="#1e1e7c"/>
<rect x="463" y="346" width="1" height="9" fill="#cc3226"/>
<rect x="462" y="347" width="1" height="1" fill="#cc3226"/>
<rect x="464" y="351" width="1" height="1" fill="#cc3226"/>
<rect x="465" y="346" width="1" height="21" fill="#cc3226"/>
<rect x="464" y="351" width="1" height="1" fill="#cc3226"/>
<rect x="466" y="360" width="1" height="1" fill="#cc3226"/>
<rect x="467" y="354" width="1" height="13" fill="#1e1e7c"/>
<rect x="466" y="360" width="1" height="1" fill="#1e1e7c"/>
<rect x="468" y="355" width="1" height="1" fill="#1e1e7c"/>
<rect x="469" y="346" width="1" height="12" fill="#1e1e7c"/>
<rect x="468" y="355" width="1" height="1" fill="#1e1e7c"/>
<rect x="470" y="347" width="1" height="1" fill="#1e1e7c"/>
<rect x="471" y="341" width="1" height="14" fill="#1e1e7c"/>
<rect x="470" y="347" width="1" height="1" fill="#1e1e7c"/>
<rect x="472" y="342" width="1" height="1" fill="#1e1e7c"/>
<rect x="473" y="338" width="1" height="23" fill="#cc3226"/>
<rect x="472" y="342" width="1" height="1" fill="#cc3226"/>
<rect x="474" y="355" width="1" height="1" fill="#cc3226"/>
<rect x="475" y="354" width="1" height="13" fill="#1e1e7c"/>
<rect x="474" y="355" width="1" height="1" fill="#1e1e7c"/>
<rect x="476" y="354" width="1" height="1" fill="#1e1e7c"/>
<rect x="477" y="354" width="1" height="12" fill="#1e1e7c"/>
<rect x="476" y="363" width="1" height="1" fill="#1e1e7c"/>
<rect x="478" y="357" width="1" height="1" fill="#1e1e7c"/>
<rect x="479" y="354" width="1" height="8" fill="#1e1e7c"/>
<rect x="478" y="357" width="1" height="1" fill="#1e1e7c"/>
<rect x="480" y="354" width="1" height="1" fill="#1e1e7c"/>
<rect x="481" y="350" width="1" height="12" fill="#cc3226"/>
<rect x="480" y="354" width="1" height="1" fill="#cc3226"/>
<rect x="482" y="358" width="1" height="1" fill="#cc3226"/>
<rect x="483" y="354" width="1" height="25" fill="#cc3226"/>
<rect x="482" y="358" width="1" height="1" fill="#cc3226"/>
<rect x="484" y="378" width="1" height="1" fill="#cc3226"/>
<rect x="485" y="338" width="1" height="44" fill="#1e1e7c"/>
<rect x="484" y="378" width="1" height="1" fill="#1e1e7c"/>
<rect x="486" y="377" width="1" height="1" fill="#1e1e7c"/>
<rect x="487" y="334" width="1" height="69" fill="#cc3226"/>
<rect x="486" y="377" width="1" height="1" fill="#cc3226"/>
<rect x="488" y="394" width="1" height="1" fill="#cc3226"/>
<rect x="489" y="393" width="1" height="29" fill="#cc3226"/>
<rect x="488" y="394" width="1" height="1" fill="#cc3226"/>
<rect x="490" y="410" width="1" height="1" fill="#cc3226"/>
<rect x="491" y="381" width="1" height="38" fill="#1e1e7c"/>
<rect x="490" y="410" width="1" height="1" fill="#1e1e7c"/>
<rect x="492" y="391" width="1" height="1" fill="#1e1e7c"/>
<rect x="493" y="373" width="1" height="21" fill="#1e1e7c"/>
<rect x="492" y="391" width="1" height="1" fill="#1e1e7c"/>
<rect x="494" y="378" width="1" height="1" fill="#1e1e7c"/>
<rect x="495" y="341" width="1" height="41" fill="#1e1e7c"/>
<rect x="494" y="378" width="1" height="1" fill="#1e1e7c"/>
<rect x="496" y="343" width="1" height="1" fill="#1e1e7c"/>
<rect x="497" y="302" width="1" height="56" fill="#1e1e7c"/>
<rect x="496" y="343" width="1" height="1" fill="#1e1e7c"/>
<rect x="498" y="309" width="1" height="1" fill="#1e1e7c"/>
<rect x="499" y="297" width="1" height="42" fill="#1e1e7c"/>
<rect x="498" y="309" width="1" height="1" fill="#1e1e7c"/>
<rect x="500" y="303" width="1" height="1" fill="#1e1e7c"/>
<rect x="501" y="289" width="1" height="33" fill="#cc3226"/>
<rect x="500" y="303" width="1" height="1" fill="#cc3226"/>
<rect x="502" y="314" width="1" height="1" fill="#cc3226"/>
<rect x="503" y="310" width="1" height="29" fill="#cc3226"/>
<rect x="502" y="314" width="1" height="1" fill="#cc3226"/>
<rect x="504" y="330" width="1" height="1" fill="#cc3226"/>
<rect x="505" y="297" width="1" height="38" fill="#cc3226"/>
<rect x="504" y="330" width="1" height="1" fill="#cc3226"/>
<rect x="506" y="332" width="1" height="1" fill="#cc3226"/>
<rect x="507" y="318" width="1" height="24" fill="#1e1e7c"/>
<rect x="506" y="332" width="1" height="1" fill="#1e1e7c"/>
<rect x="508" y="321" width="1" height="1" fill="#1e1e7c"/>
<rect x="509" y="297" width="1" height="29" fill="#1e1e7c"/>
<rect x="508" y="321" width="1" height="1" fill="#1e1e7c"/>
<rect x="510" y="316" width="1" height="1" fill="#1e1e7c"/>
<rect x="511" y="310" width="1" height="29" fill="#cc3226"/>
<rect x="510" y="316" width="1" height="1" fill="#cc3226"/>
<rect x="512" y="321" width="1" height="1" fill="#cc3226"/>
<rect x="513" y="318" width="1" height="21" fill="#1e1e7c"/>
<rect x="512" y="321" width="1" height="1" fill="#1e1e7c"/>
<rect x="514" y="320" width="1" height="1" fill="#1e1e7c"/>
<rect x="515" y="333" width="1" height="25" fill="#cc3226"/>
<rect x="514" y="337" width="1" height="1" fill="#cc3226"/>
<rect x="516" y="344" width="1" height="1" fill="#cc3226"/>
<rect x="517" y="321" width="1" height="29" fill="#1e1e7c"/>
<rect x="516" y="344" width="1" height="1" fill="#1e1e7c"/>
<rect x="518" y="323" width="1" height="1" fill="#1e1e7c"/>
<rect x="519" y="310" width="1" height="29" fill="#1e1e7c"/>
<rect x="518" y="323" width="1" height="1" fill="#1e1e7c"/>
<rect x="520" y="321" width="1" height="1" fill="#1e1e7c"/>
<rect x="521" y="301" width="1" height="26" fill="#1e1e7c"/>
<rect x="520" y="321" width="1" height="1" fill="#1e1e7c"/>
<rect x="522" y="306" width="1" height="1" fill="#1e1e7c"/>
<rect x="523" y="293" width="1" height="26" fill="#cc3226"/>
<rect x="522" y="306" width="1" height="1" fill="#cc3226"/>
<rect x="524" y="308" width="1" height="1" fill="#cc3226"/>
<rect x="525" y="274" width="1" height="40" fill="#1e1e7c"/>
<rect x="524" y="308" width="1" height="1" fill="#1e1e7c"/>
<rect x="526" y="278" width="1" height="1" fill="#1e1e7c"/>
<rect x="527" y="261" width="1" height="41" fill="#cc3226"/>
<rect x="526" y="278" width="1" height="1" fill="#cc3226"/>
<rect x="528" y="282" width="1" height="1" fill="#cc3226"/>
<rect x="529" y="281" width="1" height="21" fill="#cc3226"/>
<rect x="528" y="282" width="1" height="1" fill="#cc3226"/>
<rect x="530" y="296" width="1" height="1" fill="#cc3226"/>
<rect x="531" y="293" width="1" height="17" fill="#cc3226"/>
<rect x="530" y="296" width="1" height="1" fill="#cc3226"/>
<rect x="532" y="306" width="1" height="1" fill="#cc3226"/>
<rect x="533" y="289" width="1" height="21" fill="#1e1e7c"/>
<rect x="532" y="306" width="1" height="1" fill="#1e1e7c"/>
<rect x="534" y="303" width="1" height="1" fill="#1e1e7c"/>
<rect x="535" y="285" width="1" height="34" fill="#cc3226"/>
<rect x="534" y="303" width="1" height="1" fill="#cc3226"/>
<rect x="536" y="304" width="1" height="1" fill="#cc3226"/>
<rect x="537" y="281" width="1" height="25" fill="#1e1e7c"/>
<rect x="536" y="304" width="1" height="1" fill="#1e1e7c"/>
<rect x="538" y="300" width="1" height="1" fill="#1e1e7c"/>
<rect x="539" y="277" width="1" height="29" fill="#cc3226"/>
<rect x="538" y="300" width="1" height="1" fill="#cc3226"/>
<rect x="540" y="305" width="1" height="1" fill="#cc3226"/>
<rect x="541" y="285" width="1" height="29" fill="#cc3226"/>
<rect x="540" y="305" width="1" height="1" fill="#cc3226"/>
<rect x="542" y="313" width="1" height="1" fill="#cc3226"/>
<rect x="543" y="305" width="1" height="33" fill="#cc3226"/>
<rect x="542" y="313" width="1" height="1" fill="#cc3226"/>
<rect x="544" y="330" width="1" height="1" fill="#cc3226"/>
<rect x="545" y="318" width="1" height="60" fill="#cc3226"/>
<rect x="544" y="330" width="1" height="1" fill="#cc3226"/>
<rect x="546" y="340" width="1" height="1" fill="#cc3226"/>
<rect x="549" y="325" width="1" height="33" fill="#1e1e7c"/>
<rect x="548" y="350" width="1" height="1" fill="#1e1e7c"/>
<rect x="550" y="337" width="1" height="1" fill="#1e1e7c"/>
<rect x="551" y="334" width="1" height="24" fill="#cc3226"/>
<rect x="550" y="337" width="1" height="1" fill="#cc3226"/>
<rect x="552" y="338" width="1" height="1" fill="#cc3226"/>
<rect x="553" y="325" width="1" height="33" fill="#1e1e7c"/>
<rect x="552" y="338" width="1" height="1" fill="#1e1e7c"/>
<rect x="554" y="330" width="1" height="1" fill="#1e1e7c"/>
<rect x="555" y="329" width="1" height="21" fill="#cc3226"/>
<rect x="554" y="330" width="1" height="1" fill="#cc3226"/>
<rect x="556" y="349" width="1" height="1" fill="#cc3226"/>
<rect x="557" y="337" width="1" height="49" fill="#cc3226"/>
<rect x="556" y="349" width="1" height="1" fill="#cc3226"/>
<rect x="558" y="353" width="1" height="1" fill="#cc3226"/>
<rect x="559" y="334" width="1" height="33" fill="#1e1e7c"/>
<rect x="558" y="353" width="1" height="1" fill="#1e1e7c"/>
<rect x="560" y="350" width="1" height="1" fill="#1e1e7c"/>
<rect x="561" y="325" width="1" height="33" fill="#1e1e7c"/>
<rect x="560" y="350" width="1" height="1" fill="#1e1e7c"/>
<rect x="562" y="329" width="1" height="1" fill="#1e1e7c"/>
<rect x="563" y="317" width="1" height="30" fill="#cc3226"/>
<rect x="562" y="329" width="1" height="1" fill="#cc3226"/>
<rect x="564" y="343" width="1" height="1" fill="#cc3226"/>
<rect x="565" y="325" width="1" height="25" fill="#1e1e7c"/>
<rect x="564" y="343" width="1" height="1" fill="#1e1e7c"/>
<rect x="566" y="328" width="1" height="1" fill="#1e1e7c"/>
<rect x="567" y="317" width="1" height="22" fill="#cc3226"/>
<rect x="566" y="328" width="1" height="1" fill="#cc3226"/>
<rect x="568" y="333" width="1" height="1" fill="#cc3226"/>
<rect x="569" y="329" width="1" height="13" fill="#1e1e7c"/>
<rect x="568" y="333" width="1" height="1" fill="#1e1e7c"/>
<rect x="570" y="329" width="1" height="1" fill="#1e1e7c"/>
<rect x="571" y="325" width="1" height="17" fill="#1e1e7c"/>
<rect x="570" y="329" width="1" height="1" fill="#1e1e7c"/>
<rect x="572" y="327" width="1" height="1" fill="#1e1e7c"/>
<rect x="573" y="333" width="1" height="17" fill="#cc3226"/>
<rect x="572" y="335" width="1" height="1" fill="#cc3226"/>
<rect x="574" y="345" width="1" height="1" fill="#cc3226"/>
<rect x="575" y="341" width="1" height="17" fill="#cc3226"/>
<rect x="574" y="345" width="1" height="1" fill="#cc3226"/>
<rect x="576" y="355" width="1" height="1" fill="#cc3226"/>
<rect x="577" y="349" width="1" height="13" fill="#cc3226"/>
<rect x="576" y="355" width="1" height="1" fill="#cc3226"/>
<rect x="578" y="358" width="1" height="1" fill="#cc3226"/>
<rect x="579" y="354" width="1" height="21" fill="#1e1e7c"/>
<rect x="578" y="358" width="1" height="1" fill="#1e1e7c"/>
<rect x="580" y="357" width="1" height="1" fill="#1e1e7c"/>
<rect x="581" y="349" width="1" height="13" fill="#1e1e7c"/>
<rect x="580" y="357" width="1" height="1" fill="#1e1e7c"/>
<rect x="582" y="351" width="1" height="1" fill="#1e1e7c"/>
<rect x="583" y="345" width="1" height="25" fill="#cc3226"/>
<rect x="582" y="351" width="1" height="1" fill="#cc3226"/>
<rect x="584" y="352" width="1" height="1" fill="#cc3226"/>
<rect x="585" y="341" width="1" height="17" fill="#1e1e7c"/>
<rect x="584" y="352" width="1" height="1" fill="#1e1e7c"/>
<rect x="586" y="351" width="1" height="1" fill="#1e1e7c"/>
<rect x="587" y="349" width="1" height="13" fill="#1e1e7c"/>
<rect x="586" y="351" width="1" height="1" fill="#1e1e7c"/>
<rect x="588" y="350" width="1" height="1" fill="#1e1e7c"/>
<rect x="589" y="349" width="1" height="18" fill="#cc3226"/>
<rect x="588" y="350" width="1" height="1" fill="#cc3226"/>
<rect x="590" y="366" width="1" height="1" fill="#cc3226"/>
<rect x="591" y="357" width="1" height="25" fill="#cc3226"/>
<rect x="590" y="366" width="1" height="1" fill="#cc3226"/>
<rect x="592" y="376" width="1" height="1" fill="#cc3226"/>
<rect x="593" y="369" width="1" height="21" fill="#1e1e7c"/>
<rect x="592" y="376" width="1" height="1" fill="#1e1e7c"/>
<rect x="594" y="375" width="1" height="1" fill="#1e1e7c"/>
<rect x="595" y="361" width="1" height="26" fill="#1e1e7c"/>
<rect x="594" y="375" width="1" height="1" fill="#1e1e7c"/>
<rect x="596" y="369" width="1" height="1" fill="#1e1e7c"/>
<rect x="597" y="357" width="1" height="21" fill="#cc3226"/>
<rect x="596" y="369" width="1" height="1" fill="#cc3226"/>
<rect x="598" y="372" width="1" height="1" fill="#cc3226"/>
<rect x="599" y="369" width="1" height="30" fill="#cc3226"/>
<rect x="598" y="372" width="1" height="1" fill="#cc3226"/>
<rect x="600" y="386" width="1" height="1" fill="#cc3226"/>
<rect x="601" y="381" width="1" height="29" fill="#cc3226"/>
<rect x="600" y="386" width="1" height="1" fill="#cc3226"/>
<rect x="602" y="403" width="1" height="1" fill="#cc3226"/>
<rect x="603" y="394" width="1" height="24" fill="#1e1e7c"/>
<rect x="602" y="403" width="1" height="1" fill="#1e1e7c"/>
<rect x="604" y="398" width="1" height="1" fill="#1e1e7c"/>
<rect x="605" y="389" width="1" height="13" fill="#1e1e7c"/>
<rect x="604" y="398" width="1" height="1" fill="#1e1e7c"/>
<rect x="606" y="389" width="1" height="1" fill="#1e1e7c"/>
<rect x="607" y="381" width="1" height="18" fill="#1e1e7c"/>
<rect x="606" y="389" width="1" height="1" fill="#1e1e7c"/>
<rect x="608" y="388" width="1" height="1" fill="#1e1e7c"/>
<rect x="609" y="369" width="1" height="29" fill="#1e1e7c"/>
<rect x="608" y="388" width="1" height="1" fill="#1e1e7c"/>
<rect x="610" y="375" width="1" height="1" fill="#1e1e7c"/>
<rect x="611" y="369" width="1" height="46" fill="#cc3226"/>
<rect x="610" y="375" width="1" height="1" fill="#cc3226"/>
<rect x="612" y="378" width="1" height="1" fill="#cc3226"/>
<rect x="613" y="377" width="1" height="45" fill="#1e1e7c"/>
<rect x="612" y="378" width="1" height="1" fill="#1e1e7c"/>
<rect x="614" y="377" width="1" height="1" fill="#1e1e7c"/>
<rect x="615" y="353" width="1" height="37" fill="#1e1e7c"/>
<rect x="614" y="377" width="1" height="1" fill="#1e1e7c"/>
<rect x="616" y="358" width="1" height="1" fill="#1e1e7c"/>
<rect x="617" y="349" width="1" height="46" fill="#1e1e7c"/>
<rect x="616" y="358" width="1" height="1" fill="#1e1e7c"/>
<rect x="618" y="351" width="1" height="1" fill="#1e1e7c"/>
<rect x="619" y="341" width="1" height="29" fill="#cc3226"/>
<rect x="618" y="351" width="1" height="1" fill="#cc3226"/>
<rect x="620" y="369" width="1" height="1" fill="#cc3226"/>
<rect x="621" y="361" width="1" height="17" fill="#cc3226"/>
<rect x="620" y="369" width="1" height="1" fill="#cc3226"/>
<rect x="622" y="371" width="1" height="1" fill="#cc3226"/>
<rect x="623" y="369" width="1" height="26" fill="#cc3226"/>
<rect x="622" y="371" width="1" height="1" fill="#cc3226"/>
<rect x="624" y="380" width="1" height="1" fill="#cc3226"/>
<rect x="625" y="365" width="1" height="21" fill="#cc3226"/>
<rect x="624" y="380" width="1" height="1" fill="#cc3226"/>
<rect x="626" y="381" width="1" height="1" fill="#cc3226"/>
<rect x="627" y="377" width="1" height="25" fill="#cc3226"/>
<rect x="626" y="381" width="1" height="1" fill="#cc3226"/>
<rect x="628" y="387" width="1" height="1" fill="#cc3226"/>
<rect x="629" y="381" width="1" height="17" fill="#1e1e7c"/>
<rect x="628" y="387" width="1" height="1" fill="#1e1e7c"/>
<rect x="630" y="386" width="1" height="1" fill="#1e1e7c"/>
<rect x="631" y="381" width="1" height="17" fill="#cc3226"/>
<rect x="630" y="386" width="1" height="1" fill="#cc3226"/>
<rect x="632" y="395" width="1" height="1" fill="#cc3226"/>
<rect x="633" y="381" width="1" height="17" fill="#1e1e7c"/>
<rect x="632" y="395" width="1" height="1" fill="#1e1e7c"/>
<rect x="634" y="389" width="1" height="1" fill="#1e1e7c"/>
<rect x="635" y="369" width="1" height="26" fill="#1e1e7c"/>
<rect x="634" y="389" width="1" height="1" fill="#1e1e7c"/>
<rect x="636" y="385" width="1" height="1" fill="#1e1e7c"/>
<rect x="637" y="369" width="1" height="26" fill="#1e1e7c"/>
<rect x="636" y="385" width="1" height="1" fill="#1e1e7c"/>
<rect x="638" y="376" width="1" height="1" fill="#1e1e7c"/>
<rect x="639" y="374" width="1" height="16" fill="#cc3226"/>
<rect x="638" y="376" width="1" height="1" fill="#cc3226"/>
<rect x="640" y="382" width="1" height="1" fill="#cc3226"/>
<rect x="641" y="381" width="1" height="17" fill="#1e1e7c"/>
<rect x="640" y="382" width="1" height="1" fill="#1e1e7c"/>
<rect x="642" y="381" width="1" height="1" fill="#1e1e7c"/>
<rect x="643" y="369" width="1" height="17" fill="#1e1e7c"/>
<rect x="642" y="381" width="1" height="1" fill="#1e1e7c"/>
<rect x="644" y="375" width="1" height="1" fill="#1e1e7c"/>
<rect x="645" y="373" width="1" height="17" fill="#cc3226"/>
<rect x="644" y="375" width="1" height="1" fill="#cc3226"/>
<rect x="646" y="378" width="1" height="1" fill="#cc3226"/>
<rect x="647" y="369" width="1" height="13" fill="#1e1e7c"/>
<rect x="646" y="378" width="1" height="1" fill="#1e1e7c"/>
<rect x="648" y="369" width="1" height="1" fill="#1e1e7c"/>
<rect x="649" y="334" width="1" height="44" fill="#1e1e7c"/>
<rect x="648" y="369" width="1" height="1" fill="#1e1e7c"/>
<rect x="650" y="347" width="1" height="1" fill="#1e1e7c"/>
<rect x="651" y="334" width="1" height="16" fill="#cc3226"/>
<rect x="650" y="347" width="1" height="1" fill="#cc3226"/>
<rect x="652" y="348" width="1" height="1" fill="#cc3226"/>
<rect x="653" y="334" width="1" height="16" fill="#1e1e7c"/>
<rect x="652" y="348" width="1" height="1" fill="#1e1e7c"/>
<rect x="654" y="338" width="1" height="1" fill="#1e1e7c"/>
<rect x="655" y="329" width="1" height="13" fill="#1e1e7c"/>
<rect x="654" y="338" width="1" height="1" fill="#1e1e7c"/>
<rect x="656" y="337" width="1" height="1" fill="#1e1e7c"/>
<rect x="657" y="329" width="1" height="29" fill="#cc3226"/>
<rect x="656" y="337" width="1" height="1" fill="#cc3226"/>
<rect x="658" y="355" width="1" height="1" fill="#cc3226"/>
<rect x="659" y="321" width="1" height="49" fill="#1e1e7c"/>
<rect x="658" y="355" width="1" height="1" fill="#1e1e7c"/>
<rect x="660" y="322" width="1" height="1" fill="#1e1e7c"/>
<rect x="660" y="317" width="5" height="1" fill="#000"/>
<rect x="665" y="385" width="1" height="50" fill="#cc3226"/>
<rect x="664" y="399" width="1" height="1" fill="#cc3226"/>
<rect x="666" y="416" width="1" height="1" fill="#cc3226"/>
<rect x="667" y="413" width="1" height="42" fill="#1e1e7c"/>
<rect x="666" y="416" width="1" height="1" fill="#1e1e7c"/>
<rect x="668" y="414" width="1" height="1" fill="#1e1e7c"/>
<rect x="669" y="417" width="1" height="21" fill="#cc3226"/>
<rect x="668" y="420" width="1" height="1" fill="#cc3226"/>
<rect x="670" y="429" width="1" height="1" fill="#cc3226"/>
<rect x="671" y="425" width="1" height="10" fill="#cc3226"/>
<rect x="670" y="429" width="1" height="1" fill="#cc3226"/>
<rect x="672" y="432" width="1" height="1" fill="#cc3226"/>
<rect x="673" y="429" width="1" height="61" fill="#cc3226"/>
<rect x="672" y="432" width="1" height="1" fill="#cc3226"/>
<rect x="674" y="480" width="1" height="1" fill="#cc3226"/>
<rect x="675" y="465" width="1" height="33" fill="#1e1e7c"/>
<rect x="674" y="480" width="1" height="1" fill="#1e1e7c"/>
<rect x="676" y="478" width="1" height="1" fill="#1e1e7c"/>
<rect x="677" y="473" width="1" height="87" fill="#cc3226"/>
<rect x="676" y="478" width="1" height="1" fill="#cc3226"/>
<rect x="678" y="557" width="1" height="1" fill="#cc3226"/>
<rect x="679" y="522" width="1" height="53" fill="#cc3226"/>
<rect x="678" y="557" width="1" height="1" fill="#cc3226"/>
<rect x="680" y="558" width="1" height="1" fill="#cc3226"/>
<rect x="681" y="533" width="1" height="27" fill="#1e1e7c"/>
<rect x="680" y="558" width="1" height="1" fill="#1e1e7c"/>
<rect x="682" y="540" width="1" height="1" fill="#1e1e7c"/>
<rect x="683" y="529" width="1" height="21" fill="#1e1e7c"/>
<rect x="682" y="540" width="1" height="1" fill="#1e1e7c"/>
<rect x="684" y="538" width="1" height="1" fill="#1e1e7c"/>
<rect x="685" y="529" width="1" height="43" fill="#cc3226"/>
<rect x="684" y="538" width="1" height="1" fill="#cc3226"/>
<rect x="686" y="547" width="1" height="1" fill="#cc3226"/>
<rect x="687" y="537" width="1" height="26" fill="#1e1e7c"/>
<rect x="686" y="547" width="1" height="1" fill="#1e1e7c"/>
<rect x="688" y="546" width="1" height="1" fill="#1e1e7c"/>
<rect x="689" y="541" width="1" height="26" fill="#cc3226"/>
<rect x="688" y="546" width="1" height="1" fill="#cc3226"/>
<rect x="690" y="553" width="1" height="1" fill="#cc3226"/>
<rect x="691" y="545" width="1" height="58" fill="#cc3226"/>
<rect x="690" y="553" width="1" height="1" fill="#cc3226"/>
<rect x="692" y="586" width="1" height="1" fill="#cc3226"/>
<rect x="693" y="559" width="1" height="33" fill="#1e1e7c"/>
<rect x="692" y="586" width="1" height="1" fill="#1e1e7c"/>
<rect x="694" y="573" width="1" height="1" fill="#1e1e7c"/>
<rect x="695" y="537" width="1" height="23" fill="#1e1e7c"/>
<rect x="694" y="557" width="1" height="1" fill="#1e1e7c"/>
<rect x="696" y="541" width="1" height="1" fill="#1e1e7c"/>
<rect x="697" y="537" width="1" height="22" fill="#1e1e7c"/>
<rect x="696" y="541" width="1" height="1" fill="#1e1e7c"/>
<rect x="698" y="540" width="1" height="1" fill="#1e1e7c"/>
<rect x="699" y="533" width="1" height="27" fill="#1e1e7c"/>
<rect x="698" y="540" width="1" height="1" fill="#1e1e7c"/>
<rect x="700" y="536" width="1" height="1" fill="#1e1e7c"/>
<rect x="701" y="525" width="1" height="25" fill="#cc3226"/>
<rect x="700" y="536" width="1" height="1" fill="#cc3226"/>
<rect x="702" y="542" width="1" height="1" fill="#cc3226"/>
<rect x="703" y="525" width="1" height="22" fill="#cc3226"/>
<rect x="702" y="542" width="1" height="1" fill="#cc3226"/>
<rect x="704" y="543" width="1" height="1" fill="#cc3226"/>
<rect x="705" y="529" width="1" height="22" fill="#1e1e7c"/>
<rect x="704" y="543" width="1" height="1" fill="#1e1e7c"/>
<rect x="706" y="540" width="1" height="1" fill="#1e1e7c"/>
<rect x="707" y="529" width="1" height="17" fill="#cc3226"/>
<rect x="706" y="540" width="1" height="1" fill="#cc3226"/>
<rect x="708" y="542" width="1" height="1" fill="#cc3226"/>
<rect x="709" y="537" width="1" height="9" fill="#1e1e7c"/>
<rect x="708" y="542" width="1" height="1" fill="#1e1e7c"/>
<rect x="710" y="540" width="1" height="1" fill="#1e1e7c"/>
<rect x="1379" y="48" width="6" height="1" fill="#000"/>
<rect x="1379" y="88" width="6" height="1" fill="#000"/>
<rect x="1379" y="128" width="6" height="1" fill="#000"/>
<rect x="1379" y="168" width="6" height="1" fill="#000"/>
<rect x="1379" y="208" width="6" height="1" fill="#000"/>
<rect x="1379" y="249" width="6" height="1" fill="#000"/>
<rect x="1379" y="289" width="6" height="1" fill="#000"/>
<rect x="1379" y="329" width="6" height="1" fill="#000"/>
<rect x="1379" y="369" width="6" height="1" fill="#000"/>
<rect x="1379" y="409" width="6" height="1" fill="#000"/>
<rect x="1379" y="449" width="6" height="1" fill="#000"/>
<rect x="1379" y="489" width="6" height="1" fill="#000"/>
<rect x="1379" y="529" width="6" height="1" fill="#000"/>
<rect x="1379" y="569" width="6" height="1" fill="#000"/>
<rect x="1379" y="610" width="6" height="1" fill="#000"/>
<rect x="1379" y="650" width="6" height="1" fill="#000"/>
<rect x="1379" y="690" width="6" height="1" fill="#000"/>
<rect x="1379" y="730" width="6" height="1" fill="#000"/>
<rect x="1379" y="770" width="6" height="1" fill="#000"/>
<rect x="13" y="797" width="1" height="6" fill="#000"/>
<rect x="65" y="797" width="1" height="6" fill="#000"/>
<rect x="91" y="797" width="1" height="6" fill="#000"/>
<rect x="93" y="797" width="1" height="6" fill="#000"/>
<rect x="149" y="797" width="1" height="6" fill="#000"/>
<rect x="201" y="797" width="1" height="6" fill="#000"/>
<rect x="207" y="797" width="1" height="6" fill="#000"/>
<rect x="263" y="797" width="1" height="6" fill="#000"/>
<rect x="315" y="797" width="1" height="6" fill="#000"/>
<rect x="321" y="797" width="1" height="6" fill="#000"/>
<rect x="377" y="797" width="1" height="6" fill="#000"/>
<rect x="429" y="797" width="1" height="6" fill="#000"/>
<rect x="435" y="797" width="1" height="6" fill="#000"/>
<rect x="491" y="797" width="1" height="6" fill="#000"/>
<rect x="543" y="797" width="1" height="6" fill="#000"/>
<rect x="549" y="797" width="1" height="6" fill="#000"/>
<rect x="605" y="797" width="1" height="6" fill="#000"/>
<rect x="657" y="797" width="1" height="6" fill="#000"/>
<rect x="663" y="797" width="1" height="6" fill="#000"/>
<rect x="665" y="797" width="1" height="6" fill="#000"/>
<rect x="721" y="797" width="1" height="6" fill="#000"/>
<rect x="773" y="797" width="1" height="6" fill="#000"/>
<rect x="793" y="797" width="1" height="6" fill="#000"/>
<rect x="849" y="797" width="1" height="6" fill="#000"/>
<rect x="901" y="797" width="1" height="6" fill="#000"/>
<rect x="953" y="797" width="1" height="6" fill="#000"/>
<rect x="985" y="797" width="1" height="6" fill="#000"/>
<rect x="1041" y="797" width="1" height="6" fill="#000"/>
<rect x="1093" y="797" width="1" height="6" fill="#000"/>
<rect x="1145" y="797" width="1" height="6" fill="#000"/>
<rect x="1177" y="797" width="1" height="6" fill="#000"/>
<rect x="1233" y="797" width="1" height="6" fill="#000"/>
<rect x="1285" y="797" width="1" height="6" fill="#000"/>
<rect x="1337" y="797" width="1" height="6" fill="#000"/>
<rect x="1369" y="797" width="1" height="6" fill="#000"/>
<line x1="81" y1="602" x2="806" y2="602" stroke="#e41a2c" stroke-width="2" stroke-dasharray="6 2"/>
<rect x="99.5" y="536.5" width="86" height="46" fill="none" stroke="#eeb040" stroke-width="1" shape-rendering="auto"/>
<rect x="519.5" y="277.5" width="30" height="32" fill="none" stroke="#eeb040" stroke-width="1" shape-rendering="auto"/>
<rect x="675.5" y="521.5" width="44" height="42" fill="none" stroke="#eeb040" stroke-width="1" shape-rendering="auto"/>
<polygon points="1349.5,38.5 1364.5,47.5 1349.5,57.5" fill="none" stroke="#222" stroke-width="1.2" shape-rendering="auto"/>
<rect x="1366.5" y="37.5" width="3" height="20" fill="none" stroke="#222" stroke-width="1.2" shape-rendering="auto"/>
</svg>
<div class="t" style="left:7px;top:34px;letter-spacing:-0.25px;">BarTimer</div>
<div class="t" style="left:777px;top:609px;">ST</div>
<div class="t" style="left:7px;top:785px;letter-spacing:-0.1px;">© 2009 NinjaTrader, LLC</div>
<div class="t" style="left:1229px;top:780px;letter-spacing:-0.25px;">Time remaining = 00:13:41</div>
<div class="t" style="left:1386px;top:45px;">2590</div>
<div class="t" style="left:1386px;top:85px;">2580</div>
<div class="t" style="left:1386px;top:125px;">2570</div>
<div class="t" style="left:1386px;top:165px;">2560</div>
<div class="t" style="left:1386px;top:205px;">2550</div>
<div class="t" style="left:1386px;top:246px;">2540</div>
<div class="t" style="left:1386px;top:286px;">2530</div>
<div class="t" style="left:1386px;top:326px;">2520</div>
<div class="t" style="left:1386px;top:366px;">2510</div>
<div class="t" style="left:1386px;top:406px;">2500</div>
<div class="t" style="left:1386px;top:446px;">2490</div>
<div class="t" style="left:1386px;top:486px;">2480</div>
<div class="t" style="left:1386px;top:566px;">2460</div>
<div class="t" style="left:1386px;top:607px;">2450</div>
<div class="t" style="left:1386px;top:647px;">2440</div>
<div class="t" style="left:1386px;top:687px;">2430</div>
<div class="t" style="left:1386px;top:727px;">2420</div>
<div class="t" style="left:1386px;top:767px;">2410</div>
<div class="t" style="left:1386px;top:526px;">2470</div>
<svg width="1440" height="840" viewBox="0 0 1440 840"><polygon points="1379,537 1385,530 1412,530 1412,544 1385,544" fill="#000"/></svg>
<div class="t" style="left:1387px;top:532px;color:#fff;">2468</div>
<div class="t" style="left:5px;top:804px;">2:45</div>
<div class="t c" style="left:92px;top:804px;">6/8</div>
<div class="t c" style="left:148px;top:804px;">15:15</div>
<div class="t c" style="left:206px;top:804px;">6/9</div>
<div class="t c" style="left:262px;top:804px;">15:15</div>
<div class="t c" style="left:320px;top:804px;">6/10</div>
<div class="t c" style="left:376px;top:804px;">15:15</div>
<div class="t c" style="left:433px;top:804px;">6/11</div>
<div class="t c" style="left:490px;top:804px;">15:15</div>
<div class="t c" style="left:548px;top:804px;">6/12</div>
<div class="t c" style="left:604px;top:804px;">15:15</div>
<div class="t c" style="left:664px;top:804px;">6/15</div>
<div class="t c" style="left:720px;top:804px;">15:15</div>
<div class="t c" style="left:792px;top:804px;">6/16</div>
<div class="t c" style="left:848px;top:804px;">07:15</div>
<div class="t c" style="left:900px;top:804px;">13:45</div>
<div class="t c" style="left:984px;top:804px;">6/17</div>
<div class="t c" style="left:1040px;top:804px;">07:15</div>
<div class="t c" style="left:1092px;top:804px;">13:45</div>
<div class="t c" style="left:1176px;top:804px;">6/18</div>
<div class="t c" style="left:1232px;top:804px;">07:15</div>
<div class="t c" style="left:1284px;top:804px;">13:45</div>
<div class="t c" style="left:1368px;top:804px;">6/19</div>
</body></html>
